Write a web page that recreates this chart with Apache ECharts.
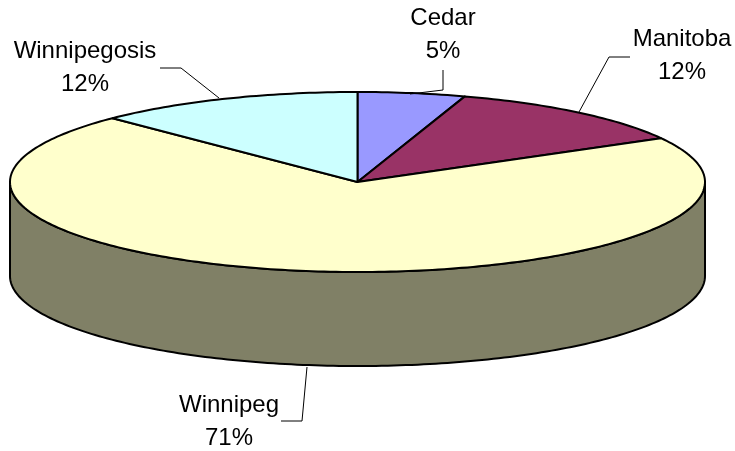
<!DOCTYPE html>
<html><head><meta charset="utf-8">
<style>html,body{margin:0;padding:0;background:#fff}#c{width:735px;height:451px}</style>
<script src="https://cdn.jsdelivr.net/npm/echarts@6/dist/echarts.min.js"></script>
</head><body><div id="c"></div>
<script>
const categories = ['Cedar', 'Manitoba', 'Winnipeg', 'Winnipegosis'];
const shareValues = [5.0, 11.9, 70.65, 12.45];
const percentLabels = ['5%', '12%', '71%', '12%'];

const colors = ['#9999FF', '#993366', '#FFFFCC', '#CCFFFF'];
const wallColor = '#808066';
const cx = 357.5, cy = 182, rx = 347.5, ry = 90, depth = 94;
const labelLayout = [
  { x: 443, y: 35, line: [[410, 94], [443, 90], [443, 70]] },
  { x: 682, y: 56, line: [[579, 112], [609, 57], [630, 57]] },
  { x: 229, y: 422, line: [[307, 367], [302, 421], [281, 421]] },
  { x: 85, y: 68, line: [[160, 68], [181, 68], [219, 98]] }
];
const total = shareValues.reduce((a, b) => a + b, 0);
const pt = (deg, dy) => {
  const t = deg * Math.PI / 180;
  return [cx + rx * Math.sin(t), cy + (dy || 0) - ry * Math.cos(t)];
};
const arc = (a, b, dy) => {
  const out = [], n = Math.max(2, Math.ceil(Math.abs(b - a) / 1));
  for (let i = 0; i <= n; i++) out.push(pt(a + (b - a) * i / n, dy));
  return out;
};
const chart = echarts.init(document.getElementById('c'), null, { renderer: 'canvas' });
chart.setOption({
  animation: false,
  backgroundColor: '#fff',
  series: [{
    type: 'custom',
    coordinateSystem: 'none',
    silent: true,
    data: categories.map((name, i) => ({ name, value: [i, shareValues[i]] })),
    renderItem(params, api) {
      const i = api.value(0);
      let before = 0;
      for (let k = 0; k < i; k++) before += shareValues[k];
      const a0 = before / total * 360, a1 = (before + api.value(1)) / total * 360;
      const children = [];
      const f0 = Math.max(a0, 90), f1 = Math.min(a1, 270);
      if (f1 > f0) {
        children.push({
          type: 'polygon',
          shape: { points: arc(f0, f1, 0).concat(arc(f1, f0, depth)) },
          style: { fill: wallColor, stroke: '#000', lineWidth: 2, lineJoin: 'round' }
        });
      }
      children.push({
        type: 'polygon',
        shape: { points: [[cx, cy]].concat(arc(a0, a1, 0)) },
        style: { fill: colors[i], stroke: '#000', lineWidth: 2, lineJoin: 'round' }
      });
      const lay = labelLayout[i];
      children.push({
        type: 'polyline',
        shape: { points: lay.line },
        z2: 5,
        style: { fill: 'none', stroke: '#000', lineWidth: 1 }
      });
      children.push({
        type: 'text',
        x: lay.x, y: lay.y, z2: 6,
        style: {
          text: categories[i] + '\n' + percentLabels[i],
          fill: '#000',
          font: '24px "Liberation Sans", Arial, sans-serif',
          lineHeight: 32.5,
          align: 'center',
          verticalAlign: 'middle'
        }
      });
      return { type: 'group', children };
    }
  }]
});
</script></body></html>
